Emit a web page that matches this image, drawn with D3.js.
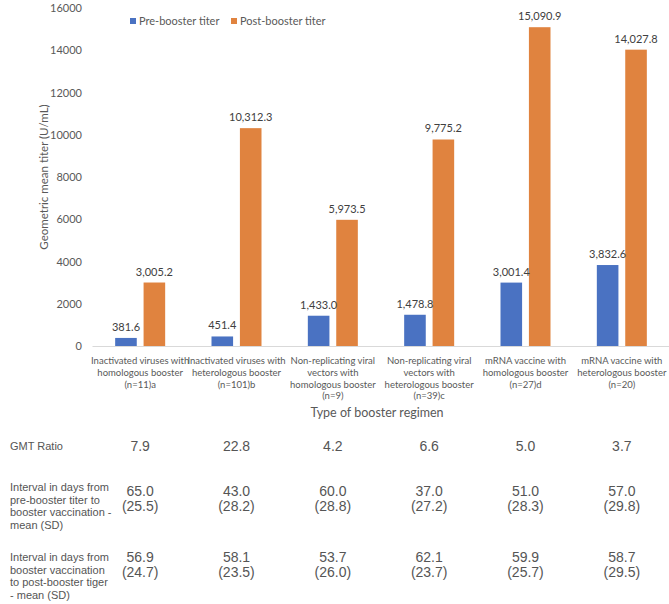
<!DOCTYPE html>
<html>
<head>
<meta charset="utf-8">
<script src="https://cdn.jsdelivr.net/npm/d3@7"></script>
<style>
  html, body { margin: 0; padding: 0; background: #ffffff; }
  svg { display: block; }
</style>
</head>
<body>
<svg id="chart" width="669" height="604"></svg>
<script>
const categories = [
  ["Inactivated viruses with", "homologous booster", "(n=11)a"],
  ["Inactivated viruses with", "heterologous booster", "(n=101)b"],
  ["Non-replicating viral", "vectors with", "homologous booster", "(n=9)"],
  ["Non-replicating viral", "vectors with", "heterologous booster", "(n=39)c"],
  ["mRNA vaccine with", "homologous booster", "(n=27)d"],
  ["mRNA vaccine with", "heterologous booster", "(n=20)"]
];
const seriesNames = ["Pre-booster titer", "Post-booster titer"];
const preBooster = [381.6, 451.4, 1433.0, 1478.8, 3001.4, 3832.6];
const postBooster = [3005.2, 10312.3, 5973.5, 9775.2, 15090.9, 14027.8];
const yTicks = [0, 2000, 4000, 6000, 8000, 10000, 12000, 14000, 16000];
const gmtRatio = ["7.9", "22.8", "4.2", "6.6", "5.0", "3.7"];
const intervalPre = [["65.0", "(25.5)"], ["43.0", "(28.2)"], ["60.0", "(28.8)"], ["37.0", "(27.2)"], ["51.0", "(28.3)"], ["57.0", "(29.8)"]];
const intervalPost = [["56.9", "(24.7)"], ["58.1", "(23.5)"], ["53.7", "(26.0)"], ["62.1", "(23.7)"], ["59.9", "(25.7)"], ["58.7", "(29.5)"]];
const rowLabels = [
  ["GMT Ratio"],
  ["Interval in days from", "pre-booster titer to", "booster vaccination -", "mean (SD)"],
  ["Interval in days from", "booster vaccination", "to post-booster tiger", "- mean (SD)"]
];

const colors = ["#4A72C2", "#E0833F"];
const chartFont = "Lato, 'Open Sans', sans-serif";
const tableFont = "'Liberation Sans', Arial, sans-serif";

const svg = d3.select("#chart");
const plotLeft = 92, plotRight = 670, plotTop = 8, plotBottom = 346;

const x0 = d3.scaleBand().domain(d3.range(categories.length)).range([plotLeft, plotRight]).paddingInner(0).paddingOuter(0);
const x1 = d3.scaleBand().domain([0, 1]).range([x0.bandwidth() / 2 - 25, x0.bandwidth() / 2 + 25]).paddingInner(0.24).paddingOuter(0);
const y = d3.scaleLinear().domain([0, 16000]).range([plotBottom, plotTop]);

// y axis tick labels
const yAxis = d3.axisLeft(y).tickValues(yTicks).tickSize(0).tickPadding(10).tickFormat(d3.format("d"));
const gy = svg.append("g").attr("transform", `translate(${plotLeft},0)`).call(yAxis);
gy.select(".domain").remove();
gy.selectAll("text").attr("font-family", chartFont).attr("font-size", 11).attr("fill", "#595959");

// x axis baseline
const xAxis = d3.axisBottom(x0).tickSize(0).tickFormat("");
const gx = svg.append("g").attr("transform", `translate(0,${plotBottom})`).call(xAxis);
gx.select(".domain").attr("stroke", "#D9D9D9").attr("stroke-width", 1);

// bars
const data = categories.map((c, i) => ({ i, vals: [preBooster[i], postBooster[i]] }));
const groups = svg.append("g").selectAll("g").data(data).join("g")
  .attr("transform", d => `translate(${x0(d.i)},0)`);
groups.selectAll("rect").data(d => d.vals.map((v, k) => ({ k, v }))).join("rect")
  .attr("x", d => x1(d.k)).attr("width", x1.bandwidth())
  .attr("y", d => y(d.v)).attr("height", d => y(0) - y(d.v))
  .attr("fill", d => colors[d.k]);
const fmt = d3.format(",.1f");
groups.selectAll("text.val").data(d => d.vals.map((v, k) => ({ k, v }))).join("text")
  .attr("class", "val")
  .attr("x", d => x1(d.k) + x1.bandwidth() / 2)
  .attr("y", d => y(d.v) - 7)
  .attr("text-anchor", "middle")
  .attr("font-family", chartFont).attr("font-size", 11).attr("fill", "#404040")
  .text(d => fmt(d.v));

// category labels
const catG = svg.append("g");
categories.forEach((lines, i) => {
  const t = catG.append("text")
    .attr("x", x0(i) + x0.bandwidth() / 2)
    .attr("y", 364)
    .attr("text-anchor", "middle")
    .attr("font-family", chartFont).attr("font-size", 9.5).attr("fill", "#595959");
  lines.forEach((ln, j) => t.append("tspan").attr("x", x0(i) + x0.bandwidth() / 2).attr("dy", j === 0 ? 0 : 11.8).text(ln));
});

// axis titles
svg.append("text").attr("x", (plotLeft + plotRight) / 2 - 4).attr("y", 417)
  .attr("text-anchor", "middle").attr("font-family", chartFont).attr("font-size", 12.5).attr("fill", "#595959")
  .text("Type of booster regimen");
svg.append("text").attr("transform", `translate(48,${(plotTop + plotBottom) / 2}) rotate(-90)`)
  .attr("text-anchor", "middle").attr("font-family", chartFont).attr("font-size", 11.5).attr("fill", "#595959")
  .text("Geometric mean titer (U/mL)");

// legend
const legend = svg.append("g").attr("transform", "translate(130,21)");
seriesNames.forEach((n, k) => {
  const gx0 = k === 0 ? 0 : 101;
  legend.append("rect").attr("x", gx0).attr("y", -3).attr("width", 6).attr("height", 6).attr("fill", colors[k]);
  legend.append("text").attr("x", gx0 + 9).attr("y", 4)
    .attr("font-family", chartFont).attr("font-size", 11).attr("fill", "#595959").text(n);
});

// table
const tbl = svg.append("g");
const labelStarts = [450, 491, 561];
rowLabels.forEach((lines, r) => {
  const t = tbl.append("text").attr("x", 10).attr("y", labelStarts[r])
    .attr("font-family", tableFont).attr("font-size", 11).attr("fill", "#555555");
  lines.forEach((ln, j) => t.append("tspan").attr("x", 10).attr("dy", j === 0 ? 0 : 12.7).text(ln));
});
const cx = i => x0(i) + x0.bandwidth() / 2;
tbl.selectAll("text.gmt").data(gmtRatio).join("text").attr("class", "gmt")
  .attr("x", (d, i) => cx(i)).attr("y", 451).attr("text-anchor", "middle")
  .attr("font-family", tableFont).attr("font-size", 14).attr("fill", "#555555").text(d => d);
[[intervalPre, 496], [intervalPost, 562]].forEach(([arr, y0]) => {
  arr.forEach((pair, i) => {
    const t = tbl.append("text").attr("x", cx(i)).attr("y", y0).attr("text-anchor", "middle")
      .attr("font-family", tableFont).attr("font-size", 14).attr("fill", "#555555");
    pair.forEach((ln, j) => t.append("tspan").attr("x", cx(i)).attr("dy", j === 0 ? 0 : 14.5).text(ln));
  });
});
</script>
</body>
</html>
